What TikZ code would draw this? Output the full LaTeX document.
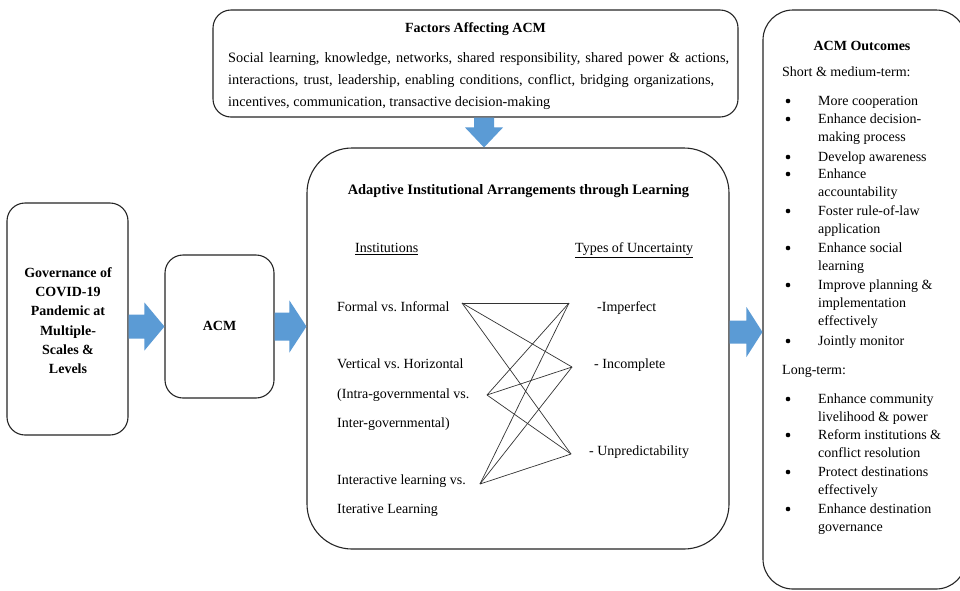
\documentclass[tikz,border=0pt]{standalone}
\usepackage{fontspec}
\setmainfont{Liberation Serif}
\usetikzlibrary{calc}
\definecolor{arrblue}{HTML}{5B9BD5}
\newcommand\fs{\fontsize{14}{18}\selectfont\frenchspacing}
\newcommand\fsb{\fontsize{14.3}{18}\selectfont\frenchspacing}
% horizontal block arrow: tail, tip, shaft half, head half, head length
\newcommand\harrow[5]{\fill[arrblue] let \p1=(#1), \p2=(#2) in
  (\x1,\y1+#3) -- (\x2-#5,\y1+#3) -- (\x2-#5,\y1+#4) -- (\x2,\y1) --
  (\x2-#5,\y1-#4) -- (\x2-#5,\y1-#3) -- (\x1,\y1-#3) -- cycle;}
% downward block arrow
\newcommand\varrow[5]{\fill[arrblue] let \p1=(#1), \p2=(#2) in
  (\x1+#3,\y1) -- (\x1+#3,\y2+#5) -- (\x1+#4,\y2+#5) -- (\x1,\y2) --
  (\x1-#4,\y2+#5) -- (\x1-#3,\y2+#5) -- (\x1-#3,\y1) -- cycle;}
\begin{document}
\begin{tikzpicture}[x=1pt,y=-1pt,
  box/.style={draw=black!85, line width=1.1pt, rounded corners=#1, inner sep=0pt},
  tl/.style={anchor=base west, inner sep=0pt, font=\fs},
  tc/.style={anchor=base, inner sep=0pt, font=\fs\bfseries},
  link/.style={draw=black!80, line width=0.7pt},
  bul/.style={circle, fill=black, inner sep=0pt, minimum size=4.6pt}]
\fill[white] (0,0) rectangle (960,590);
\useasboundingbox (0,0) rectangle (960,590);

% boxes
\node[box=18pt, minimum width=121pt, minimum height=232pt] (gov) at (67.5,319) {};
\node[box=18pt, minimum width=109pt, minimum height=143pt] (acm) at (219.5,326.5) {};
\node[box=45pt, minimum width=422pt, minimum height=401pt] (center) at (518,348.5) {};
\node[box=18pt, minimum width=525pt, minimum height=107pt] (factors) at (475.5,63.5) {};
\node[box=30pt, minimum width=203pt, minimum height=579pt] (outc) at (864.5,299.5) {};

% block arrows
\harrow{gov.east |- acm.center}{acm.west}{12pt}{24pt}{20pt}
\harrow{acm.east}{center.west}{14pt}{26pt}{17pt}
\harrow{$(center.east)+(0,-16.5)$}{outc.west}{11.5pt}{25pt}{16pt}
\varrow{$(factors.south)+(8.5,0)$}{center.north}{10pt}{19pt}{20pt}

% left texts
\node[font=\fontsize{14}{19.3}\selectfont\bfseries, align=center, inner sep=0pt] (govtxt) at (68,320.5)
  {Governance of\\COVID-19\\Pandemic at\\Multiple-\\Scales \&\\Levels};
\node[tc] (acmtxt) at (219.5,330) {ACM};

% factors
\node[tc] (ftitle) at (475.5,32.5) {Factors Affecting ACM};
\node[tl, font=\fsb] (f1) at (228,62.5) {\makebox[501pt][s]{Social learning, knowledge, networks, shared responsibility, shared power \& actions,}};
\node[tl, font=\fsb] (f2) at (228,84.5) {\makebox[486pt][s]{interactions, trust, leadership, enabling conditions, conflict, bridging organizations,}};
\node[tl, font=\fsb] (f3) at (228,106.5) {incentives, communication, transactive decision-making};

% center
\node[tc, font=\fontsize{14.4}{18}\selectfont\bfseries] (ctitle) at (518.5,194.5) {Adaptive Institutional Arrangements through Learning};
\node[tl] (inst) at (355,252.5) {\underline{Institutions}};
\node[tl] (types) at (575,252.5) {\underline{Types of Uncertainty}};
\node[tl] (i1) at (337,311.5) {Formal vs. Informal};
\node[tl] (i2) at (337,368.5) {Vertical vs. Horizontal};
\node[tl] (i2b) at (337,398.5) {(Intra-governmental vs.};
\node[tl] (i2c) at (337,427.5) {Inter-governmental)};
\node[tl] (i3) at (337,484.5) {Interactive learning vs.};
\node[tl] (i3b) at (337,513.5) {Iterative Learning};
\node[tl] (u1) at (597,311.5) {-Imperfect};
\node[tl] (u2) at (594,368.5) {- Incomplete};
\node[tl] (u3) at (589,455.5) {- Unpredictability};

\coordinate (L1) at (462,303);
\coordinate (L2) at (487,395);
\coordinate (L3) at (480,484);
\coordinate (R1) at (569,303);
\coordinate (R2) at (572,367);
\coordinate (R3) at (571,454);
\foreach \a in {L1,L2,L3}{\foreach \b in {R1,R2,R3}{\draw[link] (\a) -- (\b);}}

% outcomes
\node[tc] (otitle) at (862,50.5) {ACM Outcomes};
\node[tl] (short) at (782,76.5) {Short \& medium-term:};
\node[tl] (long) at (782,374.5) {Long-term:};
\foreach \yy/\tx/\bb [count=\k] in {
  101/More cooperation/1, 119/Enhance decision-/1, 137/making process/0,
  157/Develop awareness/1, 174/Enhance/1, 192/accountability/0,
  211/Foster rule-of-law/1, 229/application/0, 248/Enhance social/1,
  266/learning/0, 285/Improve planning \&/1, 303/implementation/0,
  321/effectively/0, 341/Jointly monitor/1,
  399/Enhance community/1, 417/livelihood \& power/0,
  435/Reform institutions \&/1, 453/conflict resolution/0,
  472/Protect destinations/1, 490/effectively/0,
  509/Enhance destination/1, 527/governance/0}{
  \node[tl] (o\k) at (818,\yy+4.5) {\tx};
  \ifnum\bb=1 \node[bul] (b\k) at (788,\yy) {};\fi
}
\end{tikzpicture}
\end{document}
